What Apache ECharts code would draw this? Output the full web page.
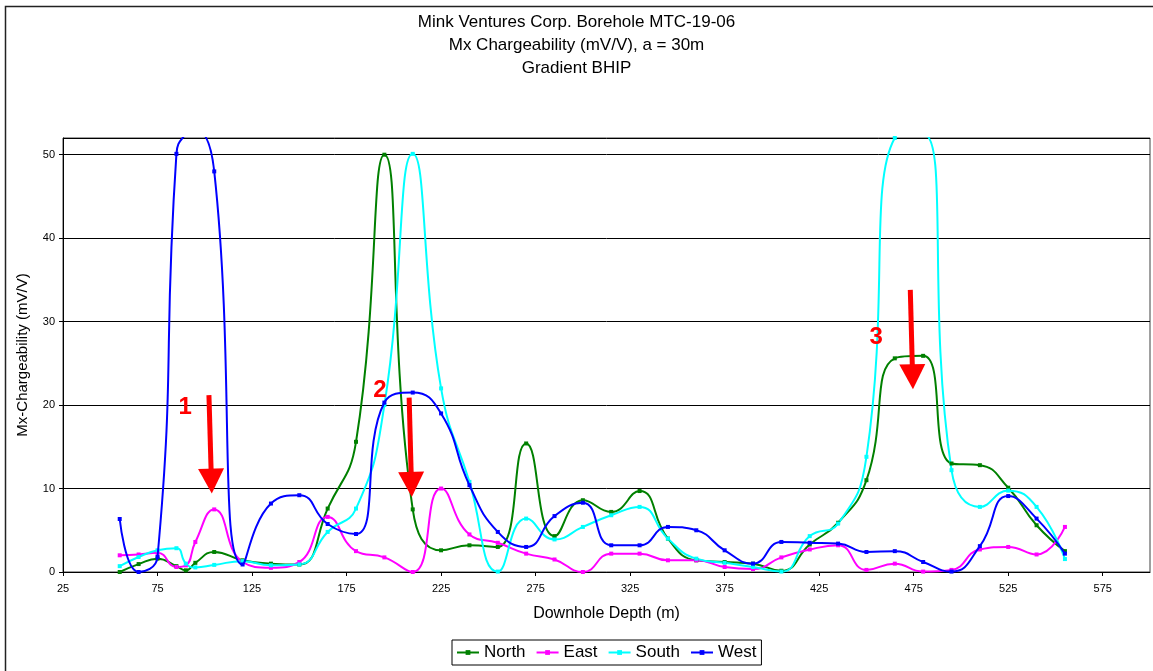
<!DOCTYPE html>
<html>
<head>
<meta charset="utf-8">
<script src="https://cdn.jsdelivr.net/npm/echarts@6/dist/echarts.min.js"></script>
<style>
  html, body { margin: 0; padding: 0; background: #fff; }
  #chart { width: 1153px; height: 671px; }
</style>
</head>
<body>
<div id="chart"></div>
<script>
// Downhole depths (m) shared by all four electrode directions
const depths = [55, 65, 75, 85, 90, 95, 105, 120, 135, 150, 165, 180, 195, 210, 225, 240, 255, 270, 285,
  300, 315, 330, 345, 360, 375, 390, 405, 420, 435, 450, 465, 480, 495, 510, 525, 540, 555];

// Mx chargeability (mV/V) per direction
const north = [0.0, 0.95, 1.6, 0.7, 0.2, 1.1, 2.4, 1.4, 1.0, 0.9, 7.6, 15.6, 50.0, 7.5, 2.6, 3.2, 3.0, 15.4, 4.3,
  8.6, 7.2, 9.7, 4.0, 1.4, 1.2, 1.0, 0.15, 3.3, 5.9, 11.0, 25.6, 25.9, 13.0, 12.8, 10.1, 5.6, 2.5];
const east = [2.0, 2.1, 2.3, 0.6, 0.8, 3.6, 7.5, 1.2, 0.5, 1.2, 6.6, 2.5, 1.75, 0.0, 10.0, 4.5, 3.5, 2.2, 1.5,
  0.0, 2.2, 2.2, 1.4, 1.4, 0.6, 0.35, 1.75, 2.7, 3.2, 0.25, 1.0, 0.05, 0.25, 2.7, 3.0, 2.1, 5.4];
const south = [0.7, 1.8, 2.6, 2.85, 1.0, 0.55, 0.85, 1.3, 0.8, 0.9, 4.8, 7.6, 20.0, 50.1, 22.0, 10.8, 0.05, 6.4, 3.9,
  5.4, 6.8, 7.8, 4.0, 1.6, 1.1, 0.6, 0.05, 4.3, 5.8, 13.8, 52.0, 52.5, 12.2, 7.8, 9.75, 7.8, 1.55];
const west = [6.35, 0.0, 1.8, 50.1, 52.5, 53.0, 48.0, 0.9, 8.2, 9.2, 5.75, 4.55, 20.3, 21.5, 19.0, 10.4, 4.8, 3.0, 6.7,
  8.3, 3.2, 3.2, 5.4, 5.0, 2.6, 1.0, 3.6, 3.5, 3.4, 2.4, 2.5, 1.2, 0.05, 3.1, 9.1, 6.4, 2.2];

const seriesNames = ['North', 'East', 'South', 'West'];
const seriesColors = ['#008000', '#ff00ff', '#00ffff', '#0000ff'];

// Axis ticks
const xTicks = { min: 25, max: 600, step: 50 };
const yTicks = { min: 0, max: 52, step: 10 };

// Highlighted anomalies: arrow tail, arrow tip (depth, mV/V) and numbered tag position
const arrowFrom = [[102.2, 21.2], [208.1, 20.9], [473.2, 33.8]];
const arrowTo = [[103.7, 9.4], [209.5, 9.0], [474.6, 21.9]];
const arrowTagAt = [[89.6, 19.7], [192.7, 21.8], [455.2, 28.1]];
const arrowTags = ['1', '2', '3'];

const FONT = '"Liberation Sans", Arial, sans-serif';
const chart = echarts.init(document.getElementById('chart'));

const valueSets = [north, east, south, west];
const lineSeries = seriesNames.map((name, k) => ({
  name: name,
  type: 'line',
  data: depths.map((d, i) => [d, valueSets[k][i]]),
  smooth: 0.5,
  symbol: 'rect',
  symbolSize: 4,
  showSymbol: true,
  itemStyle: { color: seriesColors[k] },
  lineStyle: { color: seriesColors[k], width: 2 },
  emphasis: { disabled: true },
  clip: true,
  z: 3 + (k === 3 ? 1 : 0)
}));

function renderArrow(params, api) {
  const i = params.dataIndex;
  const p0 = api.coord(arrowFrom[i]);
  const p1 = api.coord(arrowTo[i]);
  const pt = api.coord(arrowTagAt[i]);
  const dx = p1[0] - p0[0], dy = p1[1] - p0[1];
  const len = Math.sqrt(dx * dx + dy * dy);
  const ux = dx / len, uy = dy / len;
  const headLen = 25, headHalf = 13;
  const bx = p1[0] - ux * headLen, by = p1[1] - uy * headLen;
  return {
    type: 'group',
    children: [
      {
        type: 'line',
        shape: { x1: p0[0], y1: p0[1], x2: bx + ux * 2, y2: by + uy * 2 },
        style: { stroke: '#ff0000', lineWidth: 5 }
      },
      {
        type: 'polygon',
        shape: { points: [[p1[0], p1[1]], [bx - uy * headHalf, by + ux * headHalf], [bx + uy * headHalf, by - ux * headHalf]] },
        style: { fill: '#ff0000' }
      },
      {
        type: 'text',
        x: pt[0], y: pt[1],
        style: {
          text: arrowTags[i], fill: '#ff0000', font: 'bold 24px ' + FONT,
          align: 'center', verticalAlign: 'middle'
        }
      }
    ]
  };
}

chart.setOption({
  animation: false,
  backgroundColor: '#ffffff',
  title: {
    text: 'Mink Ventures Corp. Borehole MTC-19-06\nMx Chargeability (mV/V), a = 30m\nGradient BHIP',
    left: 'center',
    top: 6,
    textStyle: { fontFamily: FONT, fontSize: 17, fontWeight: 'normal', color: '#000', lineHeight: 23 }
  },
  legend: {
    data: seriesNames,
    left: 452,
    top: 640,
    orient: 'horizontal',
    itemWidth: 22,
    itemHeight: 6,
    itemGap: 10,
    padding: [4, 5, 4, 4],
    borderColor: '#000',
    borderWidth: 1,
    backgroundColor: '#fff',
    textStyle: { fontFamily: FONT, fontSize: 17, color: '#000' }
  },
  grid: {
    left: 63, right: 3, top: 138, bottom: 99,
    show: true, borderColor: '#404040', borderWidth: 1, backgroundColor: '#fff'
  },
  xAxis: {
    type: 'value',
    min: xTicks.min, max: xTicks.max, interval: xTicks.step,
    name: 'Downhole Depth (m)',
    nameLocation: 'middle',
    nameGap: 34,
    nameTextStyle: { fontFamily: FONT, fontSize: 16, color: '#000' },
    axisLine: { show: true, lineStyle: { color: '#000', width: 1 } },
    axisTick: { show: true, length: 4, lineStyle: { color: '#000' } },
    axisLabel: { fontFamily: FONT, fontSize: 11, color: '#000', margin: 11, showMaxLabel: false },
    splitLine: { show: false }
  },
  yAxis: {
    type: 'value',
    min: yTicks.min, max: yTicks.max, interval: yTicks.step,
    name: 'Mx-Chargeability (mV/V)',
    nameLocation: 'middle',
    nameGap: 33,
    nameTextStyle: { fontFamily: FONT, fontSize: 15, color: '#000' },
    axisLine: { show: true, lineStyle: { color: '#000', width: 1 } },
    axisTick: { show: true, length: 4, lineStyle: { color: '#000' } },
    axisLabel: { fontFamily: FONT, fontSize: 11, color: '#000', margin: 8, showMaxLabel: false },
    splitLine: { show: true, lineStyle: { color: '#000', width: 1 } }
  },
  graphic: [
    {
      type: 'rect',
      left: 3, top: 4,
      shape: { width: 1170, height: 690 },
      style: { fill: 'none', stroke: '#222', lineWidth: 1.5 },
      silent: true, z: -1
    }
  ],
  series: lineSeries.concat([{
    name: 'anomalies',
    type: 'custom',
    renderItem: renderArrow,
    data: arrowTags.map((t, i) => [arrowTo[i][0], arrowTo[i][1]]),
    clip: false,
    silent: true,
    z: 10
  }])
});
</script>
</body>
</html>
